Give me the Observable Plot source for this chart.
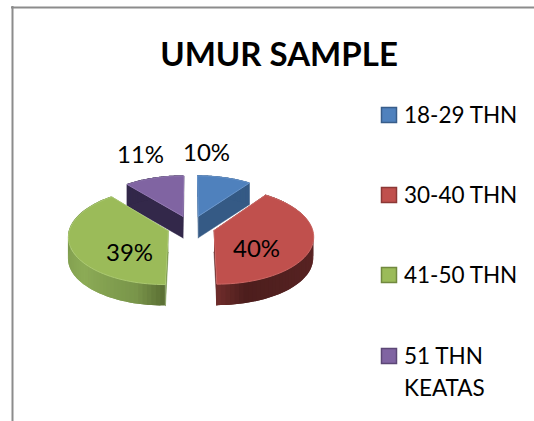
<!DOCTYPE html>
<html><head><meta charset="utf-8">
<script src="https://cdn.jsdelivr.net/npm/d3@7"></script>
<script src="https://cdn.jsdelivr.net/npm/@observablehq/plot@0.6"></script>
<style>html,body{margin:0;padding:0;background:#fff;overflow:hidden}svg{display:block}</style>
</head><body><div id="c"></div>
<script>
const title = "UMUR SAMPLE";
const categories = ["18-29 THN", "30-40 THN", "41-50 THN", "51 THN|KEATAS"];
const percents = [10, 40, 39, 11];
const topColors = ["#4f81bd", "#c0504d", "#9bbb59", "#8064a2"];
const edgeColors = ["#6a96cc", "#cd6865", "#abc971", "#9379b3"];
const swatchBorders = ["#385d8a", "#8c3836", "#71893f", "#5c4776"];
const wallColors = ["#355a85", "#5a2323", "#6d8a40", "#33284a"];
const rimStops = [
  [[0, 360], ["#355a85", "#355a85"]],
  [[60, 100, 165, 180], ["#5a2424", "#5a2424", "#4d1e1d", "#702d2b"]],
  [[180, 195, 230, 270, 320], ["#5a6e33", "#79954a", "#8cab56", "#7d9a4d", "#7d9a4d"]],
  [[0, 360], ["#33284a", "#33284a"]]
];
const labelPos = [[206, 153], [256, 249], [129, 253], [140, 155]];

// Perspective projection of the exploded pie, ground plane -> picture
const cx = 190.5, cy = 226.5, f = 98, g = 47, k = 0.107, explode = 0.245, depth = 21.5;
const rad = a => a * Math.PI / 180;
const project = (u, v) => {
  const d = 1 - k * v;
  return [cx + f * u / d, cy + g * v / d];
};
let acc = 0;
const slices = percents.map((p, i) => {
  const a0 = acc * 3.6, a1 = (acc + p) * 3.6;
  acc += p;
  const mid = rad((a0 + a1) / 2);
  const ou = explode * Math.sin(mid), ov = -explode * Math.cos(mid);
  const rim = d3.range(0, 61).map(j => {
    const a = a0 + (a1 - a0) * j / 60;
    const [x, y] = project(ou + Math.sin(rad(a)), ov - Math.cos(rad(a)));
    return {a, x, y};
  });
  const [ax, ay] = project(ou, ov);
  return {i, a0, a1, apex: {a: a0, x: ax, y: ay}, rim};
});

const marks = [
  Plot.ruleY([7], {x1: 11, x2: 534, stroke: "#8c8c8c", strokeWidth: 2}),
  Plot.ruleX([12], {y1: 6, y2: 421, stroke: "#8c8c8c", strokeWidth: 2})
];
const fillPoly = (pts, fill, opts = {}) =>
  Plot.line(pts, {x: "x", y: "y", fill, stroke: fill, strokeWidth: 0.5, curve: "linear", ...opts});

for (const i of [3, 0, 2, 1]) {
  const s = slices[i];
  const first = s.rim[0], last = s.rim[s.rim.length - 1];
  const drop = p => ({x: p.x, y: p.y + depth});
  // the two cut walls
  marks.push(fillPoly([s.apex, first, drop(first), drop(s.apex)], wallColors[i]));
  marks.push(fillPoly([s.apex, last, drop(last), drop(s.apex)], wallColors[i]));
  // outer wall, shaded along the rim; each strip overlaps the next so no seams show
  const shade = d3.scaleLinear().domain(rimStops[i][0]).range(rimStops[i][1]);
  const strips = s.rim.slice(1).flatMap((p, j) => {
    const q = s.rim[j];
    const r = s.rim[Math.min(j + 2, s.rim.length - 1)];
    const col = shade((p.a + q.a) / 2);
    return [q, p, r].map(t => ({z: j, x: t.x, y1: t.y, y2: t.y + depth, col}));
  });
  marks.push(Plot.areaY(strips, {x: "x", y1: "y1", y2: "y2", z: "z", fill: "col"}));
  // top face
  marks.push(Plot.line([s.apex, ...s.rim, s.apex], {x: "x", y: "y", fill: topColors[i], stroke: edgeColors[i], strokeWidth: 1, curve: "linear"}));
}

const font = "Lato, 'Open Sans', sans-serif";
marks.push(Plot.text([title], {text: d => d, x: () => 278.5, y: () => 55, fontFamily: font, fontWeight: 700, fontSize: 33, fill: "#000"}));
marks.push(Plot.text(percents, {text: d => d + "%", x: (d, i) => labelPos[i][0], y: (d, i) => labelPos[i][1], fontFamily: font, fontSize: 24, fill: "#000"}));

const legendY = [115, 195, 275, 356];
const legend = categories.map((c, i) => ({c, i, y: legendY[i]}));
marks.push(Plot.rect(legend, {x1: () => 381.5, x2: () => 396.5, y1: d => d.y - 7.5, y2: d => d.y + 7.5, fill: d => topColors[d.i], stroke: d => swatchBorders[d.i], strokeWidth: 1.5}));
const legendLines = legend.flatMap(d => d.c.split("|").map((t, j) => ({t, y: d.y + j * 32})));
marks.push(Plot.text(legendLines, {text: "t", x: () => 403.5, y: "y", textAnchor: "start", fontFamily: font, fontSize: 22.5, fill: "#000"}));

const chart = Plot.plot({
  width: 534, height: 421, margin: 0,
  x: {domain: [0, 534], range: [0, 534], axis: null},
  y: {domain: [0, 421], range: [0, 421], axis: null},
  color: {type: "identity"},
  style: {background: "#fff"},
  marks
});
document.getElementById("c").appendChild(chart);
</script></body></html>
